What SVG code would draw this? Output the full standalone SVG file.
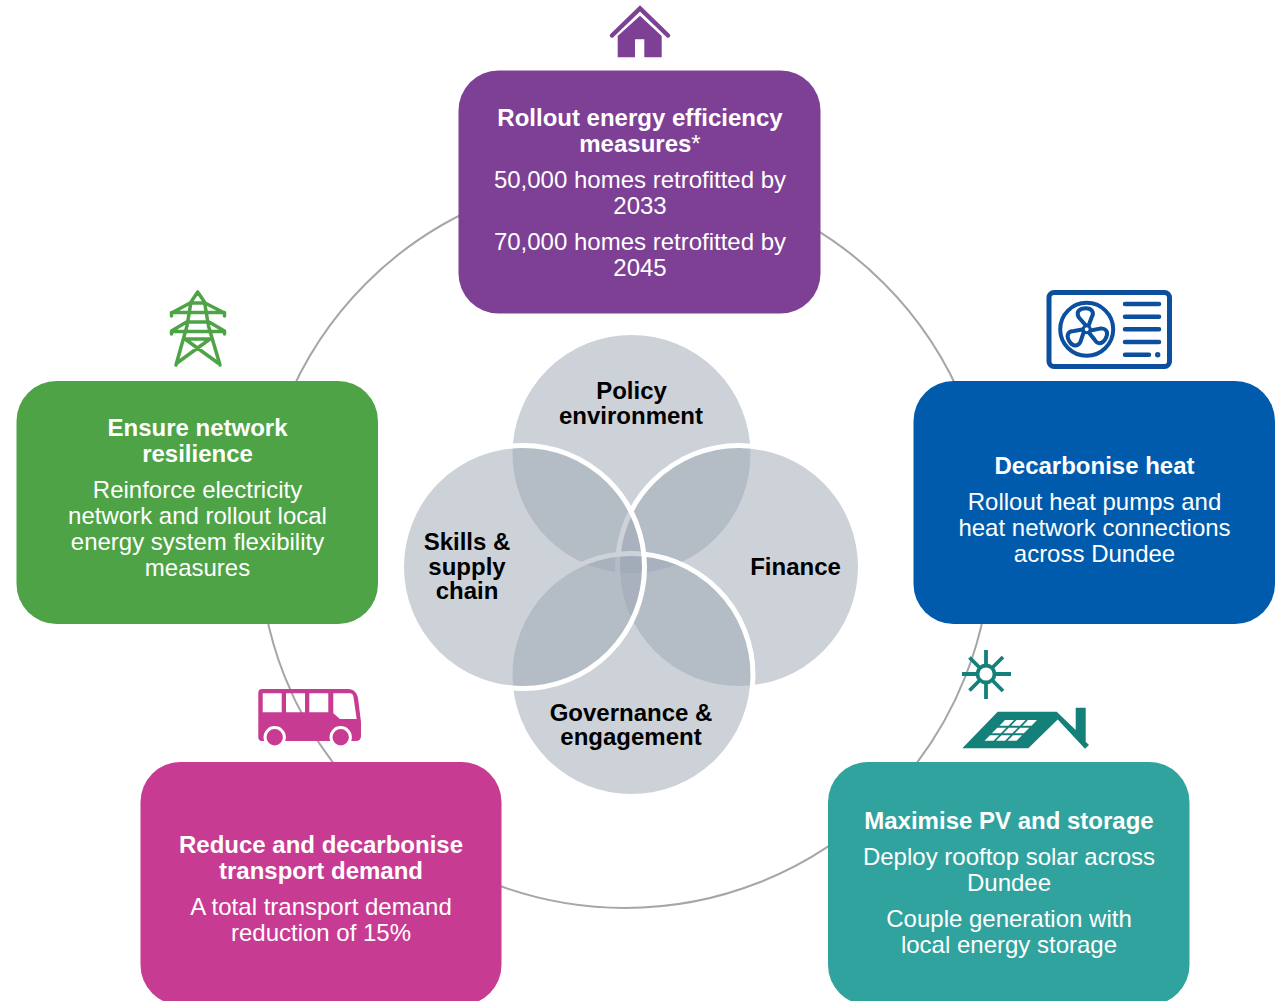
<svg xmlns="http://www.w3.org/2000/svg" width="1277" height="1001" viewBox="0 0 1277 1001">
<style>
text{font-family:"Liberation Sans",Arial,sans-serif;font-size:24px;text-anchor:middle}
.h{font-weight:bold;fill:#fff}
.b{fill:#fff}
.k{font-weight:bold;fill:#000}
.v{fill:#9BA5B3;fill-opacity:.5;stroke:#fff;stroke-width:5}
.ln{fill:none;stroke-linecap:round;stroke-linejoin:round}
</style>
<rect width="1277" height="1001" fill="#fff"/>
<g id="connectors"><circle cx="625" cy="542" r="366" fill="none" stroke="#A6A6A6" stroke-width="2"/></g>
<g id="venn">
<g id="policy"><circle class="v" cx="631.5" cy="454" r="121.500"/></g>
<g id="finance"><circle class="v" cx="739" cy="567" r="121.500"/></g>
<g id="governance"><circle class="v" cx="631.5" cy="675" r="121.500"/></g>
<g id="skills"><circle class="v" cx="523" cy="567" r="121.500"/></g>
<text class="k" x="631.500" y="399">Policy</text><text class="k" x="631" y="424">environment</text>
<text class="k" x="467" y="550">Skills &amp;</text><text class="k" x="467" y="575">supply</text><text class="k" x="467" y="599">chain</text>
<text class="k" x="795.500" y="575">Finance</text>
<text class="k" x="631" y="721">Governance &amp;</text><text class="k" x="631" y="745">engagement</text>
</g>
<g id="efficiency">
<rect x="458.500" y="70.500" width="362" height="243" rx="40" fill="#7D4095"/>
<text class="h" x="640" y="126">Rollout energy efficiency</text><text class="h" x="640" y="152">measures<tspan font-weight="normal">*</tspan></text>
<text class="b" x="640" y="188">50,000 homes retrofitted by</text><text class="b" x="640" y="214">2033</text>
<text class="b" x="640" y="250">70,000 homes retrofitted by</text><text class="b" x="640" y="276">2045</text>
<path d="M612 35.500L640 8.500L668 35.500" fill="none" stroke="#7D4095" stroke-width="4.500" stroke-linecap="round"/>
<path d="M640 15.700L661.700 36V57.300H644.300V39.300H635V57.300H617.700V36Z" fill="#7D4095"/>
</g>
<g id="heat">
<rect x="913.500" y="381" width="361.500" height="243" rx="40" fill="#005BAC"/>
<text class="h" x="1094.500" y="474">Decarbonise heat</text>
<text class="b" x="1094.500" y="510">Rollout heat pumps and</text><text class="b" x="1094.500" y="536">heat network connections</text><text class="b" x="1094.500" y="562">across Dundee</text>
<g class="ln" stroke="#0B4F9E">
<rect x="1049" y="292.500" width="120.500" height="74" rx="5" stroke-width="5"/>
<circle cx="1086.700" cy="329.300" r="26.500" stroke-width="4"/>
<g stroke-width="4" id="blades">
<path d="M-1 -4L-8 -12C-11 -18 -7 -21 -1 -21C5 -21 8 -17 5 -12L2 -4" transform="translate(1086.700 329.300) rotate(0)"/>
<path d="M-1 -4L-8 -12C-11 -18 -7 -21 -1 -21C5 -21 8 -17 5 -12L2 -4" transform="translate(1086.700 329.300) rotate(120)"/>
<path d="M-1 -4L-8 -12C-11 -18 -7 -21 -1 -21C5 -21 8 -17 5 -12L2 -4" transform="translate(1086.700 329.300) rotate(240)"/>
<circle cx="1086.700" cy="329.300" r="3.500" stroke-width="3"/>
</g>
<path d="M1125 304H1159M1125 316.700H1159M1125 329.300H1159M1125 342H1159M1125 354.700H1149" stroke-width="4.500"/>
<circle cx="1157.700" cy="354.700" r="1.200" stroke-width="3"/>
</g>
</g>
<g id="pv">
<rect x="828" y="762" width="361.500" height="243" rx="40" fill="#31A39E"/>
<text class="h" x="1009" y="829">Maximise PV and storage</text>
<text class="b" x="1009" y="865">Deploy rooftop solar across</text><text class="b" x="1009" y="891">Dundee</text>
<text class="b" x="1009" y="927">Couple generation with</text><text class="b" x="1009" y="953">local energy storage</text>
<g fill="none" stroke="#14807A" stroke-width="3.800">
<circle cx="986" cy="674" r="8.500"/>
<path d="M986 650V665M986 683V699M962 674H977M995 674H1011M969.500 657.500L979.500 667.500M992.500 680.500L1003 691M969.500 690.500L979.500 680.500M992.500 667.500L1003 657"/>
</g>
<path fill="#14807A" d="M997.700 711.700H1056.700L1075.700 730V707.700H1085.700V741.700L1089 745L1085 748.700L1057.700 719.500L1028.300 748.300H962.300Z"/>
<path fill="#fff" d="M1005 720h9l-5.500 5.700h-9zM1016.500 720h9l-5.500 5.700h-9zM1028 720h9l-5.500 5.700h-9zM997.300 727.700h9l-5.500 5.600h-9zM1008.800 727.700h9l-5.500 5.600h-9zM1020.300 727.700h9l-5.500 5.600h-9zM990 735.300h9l-5.500 5.400h-9zM1001.500 735.300h9l-5.500 5.400h-9zM1013 735.300h9l-5.500 5.400h-9z"/>
</g>
<g id="transport">
<rect x="140.500" y="762" width="361" height="243" rx="40" fill="#C83B92"/>
<text class="h" x="321" y="853">Reduce and decarbonise</text><text class="h" x="321" y="879">transport demand</text>
<text class="b" x="321" y="915">A total transport demand</text><text class="b" x="321" y="941">reduction of 15%</text>
<path fill="#C83B92" fill-rule="evenodd" d="M262 689H348C354 689 357 693 358 698L361 722V736Q361 741 356 741H262Q258.300 741 258.300 737V693Q258.300 689 262 689ZM262.700 693.300V712.300H281.700V693.300ZM286 693.300V712.300H305V693.300ZM309.300 693.300V712.300H328.300V693.300ZM333.300 693.300V713.300L340 719H356.700L353.500 697Q353 693.300 350 693.300Z"/>
<circle cx="274.700" cy="737.300" r="9.700" fill="#C83B92" stroke="#fff" stroke-width="3"/>
<circle cx="340.700" cy="737.300" r="9.700" fill="#C83B92" stroke="#fff" stroke-width="3"/>
</g>
<g id="network">
<rect x="16.500" y="381" width="361.500" height="243" rx="40" fill="#4EA346"/>
<text class="h" x="197.500" y="436">Ensure network</text><text class="h" x="197.500" y="462">resilience</text>
<text class="b" x="197.500" y="498">Reinforce electricity</text><text class="b" x="197.500" y="524">network and rollout local</text><text class="b" x="197.500" y="550">energy system flexibility</text><text class="b" x="197.500" y="576">measures</text>
<path class="ln" stroke="#4EA346" stroke-width="3.500" d="M197.700 292L191 302L187 326L176 365M197.700 292L204.500 302L208.500 326L220 365M191 303H204.500M190 303L171.500 313V316M205 303L224.500 313V316M171.500 312.500H224.500M187.500 322H208M186.500 322L171.500 331V334M209 322L224.500 331V334M171.500 331.500H224.500M185 339H210M185 339L218 363M210 339L177 363"/>
</g>
</svg>
